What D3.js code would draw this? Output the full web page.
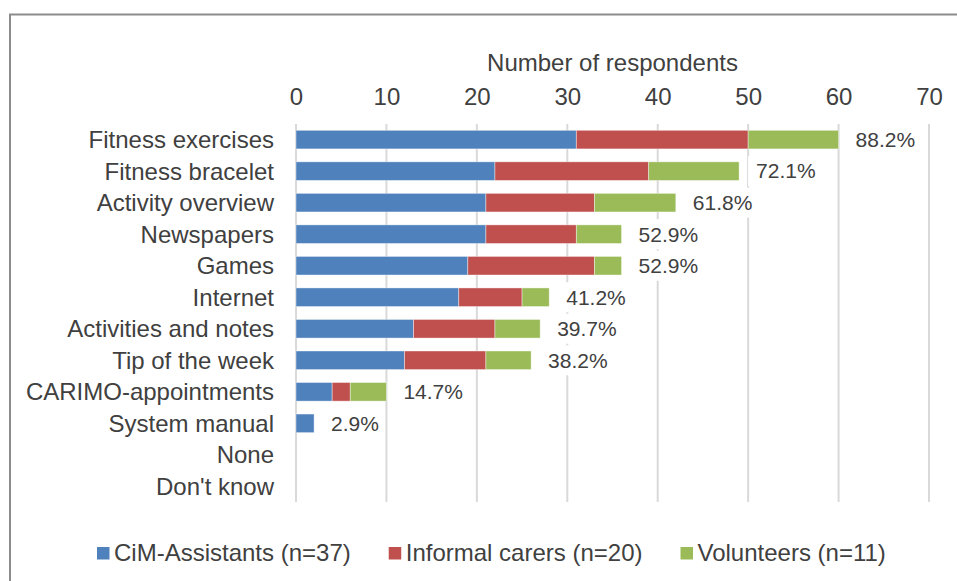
<!DOCTYPE html>
<meta charset="utf-8">
<head>
<script src="https://d3js.org/d3.v7.min.js"></script>
<style>
  body { margin: 0; background: #fff; }
  text { font-family: Arial, "Liberation Sans", sans-serif; fill: #404040; }
</style>
</head>
<body>
<svg id="chart" width="957" height="581"></svg>

<script>
// categories, top to bottom
var categories = ["Fitness exercises", "Fitness bracelet", "Activity overview", "Newspapers", "Games",
  "Internet", "Activities and notes", "Tip of the week", "CARIMO-appointments", "System manual",
  "None", "Don't know"];

var seriesNames = ["CiM-Assistants (n=37)", "Informal carers (n=20)", "Volunteers (n=11)"];
var assistants = [31, 22, 21, 21, 19, 18, 13, 12, 4, 2, 0, 0];
var carers     = [19, 17, 12, 10, 14, 7, 9, 9, 2, 0, 0, 0];
var volunteers = [10, 10, 9, 5, 3, 3, 5, 5, 4, 0, 0, 0];
var pctLabels  = ["88.2%", "72.1%", "61.8%", "52.9%", "52.9%", "41.2%", "39.7%", "38.2%", "14.7%", "2.9%", "", ""];
var xTicks = [0, 10, 20, 30, 40, 50, 60, 70];

var colors = ["#4f81bd", "#c0504d", "#9bbb59"];
var fontSize = "24px";

var svg = d3.select("#chart");

// outer frame (runs off the right and bottom edge)
svg.append("rect")
  .attr("x", 10).attr("y", 14.5)
  .attr("width", 1000).attr("height", 700)
  .attr("fill", "none")
  .attr("stroke", "#8c8c8c")
  .attr("stroke-width", 2);

var x = d3.scaleLinear().domain([0, 70]).range([296, 929]);
var y = d3.scaleBand().domain(categories).range([124, 502]).paddingInner(0.41).paddingOuter(0.2);

// gridlines
svg.append("g")
  .selectAll("line")
  .data(xTicks)
  .enter()
  .append("line")
    .attr("x1", function(d) { return x(d); })
    .attr("x2", function(d) { return x(d); })
    .attr("y1", 124).attr("y2", 502)
    .attr("stroke", "#d9d9d9")
    .attr("stroke-width", 2);

// top axis
var axis = svg.append("g")
  .attr("transform", "translate(0,113)")
  .call(d3.axisTop(x).tickValues(xTicks).tickSize(0).tickPadding(8));
axis.select(".domain").remove();
axis.selectAll("text")
  .attr("font-size", fontSize)
  .attr("fill", "#404040")
  .style("font-family", "Arial, 'Liberation Sans', sans-serif");

svg.append("text")
  .attr("x", (x(0) + x(70)) / 2)
  .attr("y", 71)
  .attr("text-anchor", "middle")
  .attr("font-size", fontSize)
  .text("Number of respondents");

// stacked data
var table = categories.map(function(c, i) {
  return { cat: c, a: assistants[i], b: carers[i], c: volunteers[i], pct: pctLabels[i] };
});
var stack = d3.stack().keys(["a", "b", "c"])(table);

svg.append("g")
  .selectAll("g")
  .data(stack)
  .enter()
  .append("g")
    .attr("fill", function(d, i) { return colors[i]; })
  .selectAll("rect")
  .data(function(d) { return d; })
  .enter()
  .append("rect")
    .filter(function(d) { return d[1] > d[0]; })
    .attr("x", function(d) { return x(d[0]); })
    .attr("width", function(d) { return x(d[1]) - x(d[0]); })
    .attr("y", function(d) { return y(d.data.cat); })
    .attr("height", y.bandwidth())
    .attr("stroke", "#ffffff")
    .attr("stroke-opacity", 0.5)
    .attr("stroke-width", 0.8);

// category labels
svg.append("g")
  .selectAll("text")
  .data(categories)
  .enter()
  .append("text")
    .attr("x", 274)
    .attr("y", function(d) { return y(d) + y.bandwidth() / 2; })
    .attr("dy", "0.35em")
    .attr("text-anchor", "end")
    .attr("font-size", fontSize)
    .text(function(d) { return d; });

// percentage labels with white boxes
var lab = svg.append("g")
  .selectAll("g")
  .data(table.filter(function(d) { return d.pct !== ""; }))
  .enter()
  .append("g")
    .attr("transform", function(d) {
      return "translate(" + (x(d.a + d.b + d.c) + 17) + "," + (y(d.cat) + y.bandwidth() / 2) + ")";
    });
lab.append("rect")
  .attr("fill", "#fff");
lab.append("text")
  .attr("dy", "0.35em")
  .attr("font-size", "21px")
  .text(function(d) { return d.pct; });
lab.each(function() {
  var g = d3.select(this);
  var bb = g.select("text").node().getBBox();
  g.select("rect")
    .attr("x", bb.x - 8).attr("y", -15)
    .attr("width", bb.width + 14).attr("height", 30);
});

// legend, laid out left to right
var legend = svg.append("g")
  .selectAll("g")
  .data(seriesNames)
  .enter()
  .append("g");
legend.append("rect")
  .attr("x", 0).attr("y", -6)
  .attr("width", 12.5).attr("height", 12.5)
  .attr("fill", function(d, i) { return colors[i]; });
legend.append("text")
  .attr("x", 17)
  .attr("dy", "0.35em")
  .attr("font-size", fontSize)
  .text(function(d) { return d; });
var lx = 97;
legend.each(function() {
  var g = d3.select(this);
  g.attr("transform", "translate(" + lx + ",553)");
  lx += 17 + g.select("text").node().getComputedTextLength() + 38;
});
</script>
</body>
